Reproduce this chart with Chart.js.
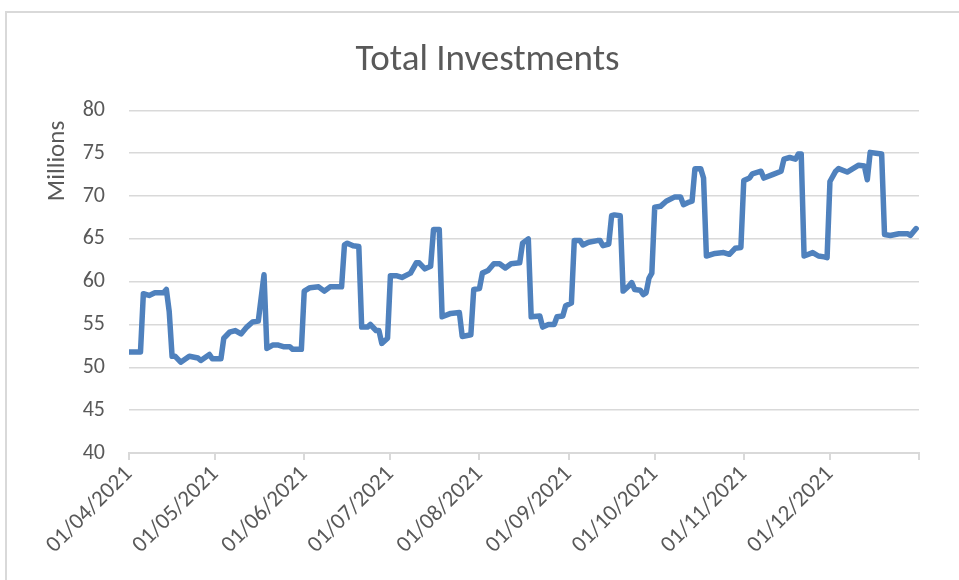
<!DOCTYPE html>
<html>
<head>
<meta charset="utf-8">
<title>Total Investments</title>
<script src="https://cdn.jsdelivr.net/npm/chart.js@4.4.1/dist/chart.umd.min.js"></script>
<style>
  html, body { margin: 0; padding: 0; background: #ffffff; }
  #wrap { position: relative; width: 959px; height: 580px; overflow: hidden; }
  #frame { position: absolute; left: 5px; top: 11px; width: 1000px; height: 1000px; border: 2px solid #d9d9d9; box-sizing: border-box; }
  #chart { position: absolute; left: 0; top: 0; }
</style>
</head>
<body>
<div id="wrap">
  <div id="frame"></div>
  <canvas id="chart" width="959" height="580"></canvas>
</div>
<script>
// day index counted from 01/04/2021
const days = [
  0, 4, 5, 7, 9, 12, 13, 14, 15, 16, 18, 21, 24, 25, 28, 29, 32, 33, 35, 37,
  39, 41, 43, 45, 47, 48, 50, 52, 54, 56, 57, 60, 61, 63, 66, 68, 70, 74, 75, 76,
  78, 80, 81, 83, 84, 86, 87, 88, 90, 91, 93, 95, 98, 100, 101, 103, 105, 106, 108, 109,
  112, 115, 116, 119, 120, 122, 123, 125, 127, 129, 131, 133, 136, 137, 139, 140, 143, 144, 146, 148,
  149, 151, 152, 154, 155, 157, 158, 160, 163, 164, 165, 167, 168, 169, 171, 172, 174, 175, 176, 178,
  179, 180, 181, 182, 183, 185, 187, 190, 192, 193, 195, 196, 197, 199, 200, 201, 204, 207, 209, 211,
  213, 214, 216, 217, 220, 221, 224, 227, 228, 230, 232, 233, 234, 235, 238, 240, 242, 243, 244, 246,
  247, 250, 252, 254, 256, 257, 258, 260, 262, 263, 265, 268, 271, 272, 274
];

// Total investments, millions
const investments = [
  51.8, 51.8, 58.6, 58.4, 58.7, 58.7, 59.1, 56.5, 51.3, 51.3, 50.6, 51.3, 51.1, 50.8, 51.5, 51.0, 51.0, 53.4, 54.1, 54.3,
  53.9, 54.7, 55.3, 55.4, 60.8, 52.2, 52.6, 52.6, 52.4, 52.4, 52.1, 52.1, 58.9, 59.3, 59.4, 58.9, 59.4, 59.4, 64.3, 64.5,
  64.2, 64.1, 54.7, 54.7, 55.0, 54.3, 54.3, 52.8, 53.4, 60.7, 60.7, 60.5, 61.0, 62.2, 62.2, 61.5, 61.8, 66.1, 66.1, 55.9,
  56.3, 56.4, 53.6, 53.8, 59.1, 59.2, 61.0, 61.3, 62.1, 62.1, 61.6, 62.1, 62.2, 64.5, 65.0, 55.9, 56.0, 54.7, 55.0, 55.0,
  55.9, 56.0, 57.2, 57.5, 64.8, 64.8, 64.3, 64.6, 64.8, 64.8, 64.2, 64.4, 67.7, 67.8, 67.7, 58.9, 59.5, 59.9, 59.1, 59.0,
  58.5, 58.7, 60.4, 61.0, 68.7, 68.8, 69.4, 69.9, 69.9, 69.0, 69.3, 69.4, 73.2, 73.2, 72.1, 63.0, 63.3, 63.4, 63.2, 63.9,
  64.0, 71.8, 72.1, 72.6, 72.9, 72.1, 72.5, 72.9, 74.3, 74.5, 74.3, 74.9, 74.9, 63.0, 63.4, 63.0, 62.9, 62.8, 71.7, 72.9,
  73.2, 72.8, 73.2, 73.6, 73.5, 71.9, 75.1, 75.0, 74.9, 65.5, 65.4, 65.6, 65.6, 65.4, 66.2
];

const monthTicks = [0, 30, 61, 91, 122, 153, 183, 214, 244, 275];
const monthLabels = [
  "01/04/2021", "01/05/2021", "01/06/2021", "01/07/2021", "01/08/2021",
  "01/09/2021", "01/10/2021", "01/11/2021", "01/12/2021", ""
];

const fontFamily = "Calibri, Carlito, Lato, sans-serif";
const textColor = "#595959";
const gridColor = "#d9d9d9";

const yTitlePlugin = {
  id: "yTitle",
  afterDraw(chart) {
    const ctx = chart.ctx;
    ctx.save();
    ctx.translate(58, 161);
    ctx.rotate(-Math.PI / 2);
    ctx.fillStyle = textColor;
    ctx.font = "25px " + fontFamily;
    ctx.textAlign = "center";
    ctx.textBaseline = "middle";
    ctx.fillText("Millions", 0, 0);
    ctx.restore();
  }
};

new Chart(document.getElementById("chart"), {
  type: "line",
  data: {
    datasets: [
      {
        label: "Total Investments",
        data: days.map((d, i) => ({ x: d, y: investments[i] })),
        borderColor: "#4f81bd",
        borderWidth: 5.5,
        borderJoinStyle: "round",
        borderCapStyle: "round",
        pointRadius: 0,
        tension: 0,
        fill: false
      }
    ]
  },
  options: {
    responsive: false,
    animation: false,
    layout: {
      padding: { left: 56, right: 40, top: 11, bottom: 0 }
    },
    plugins: {
      legend: { display: false },
      tooltip: { enabled: false },
      title: {
        display: true,
        text: "Total Investments",
        color: textColor,
        font: { family: fontFamily, size: 37, weight: "normal" },
        padding: { top: 28, bottom: 27 }
      }
    },
    scales: {
      x: {
        type: "linear",
        min: 0,
        max: 275,
        afterBuildTicks: (scale) => {
          scale.ticks = monthTicks.map((v) => ({ value: v }));
        },
        afterFit: (scale) => {
          scale.height = 127;
        },
        ticks: {
          autoSkip: false,
          minRotation: 45,
          maxRotation: 45,
          padding: 1,
          color: textColor,
          font: { family: fontFamily, size: 23 },
          callback: (value, index) => monthLabels[index]
        },
        grid: {
          drawOnChartArea: false,
          drawTicks: true,
          tickLength: 7,
          tickColor: gridColor,
          lineWidth: 2
        },
        border: { display: true, color: gridColor, width: 2 }
      },
      y: {
        min: 40,
        max: 80,
        afterFit: (scale) => {
          scale.width = 73;
        },
        ticks: {
          stepSize: 5,
          padding: 24,
          color: textColor,
          font: { family: fontFamily, size: 22 }
        },
        grid: {
          color: gridColor,
          lineWidth: 1.5,
          drawTicks: false
        },
        border: { display: false }
      }
    }
  },
  plugins: [yTitlePlugin]
});
</script>
</body>
</html>
